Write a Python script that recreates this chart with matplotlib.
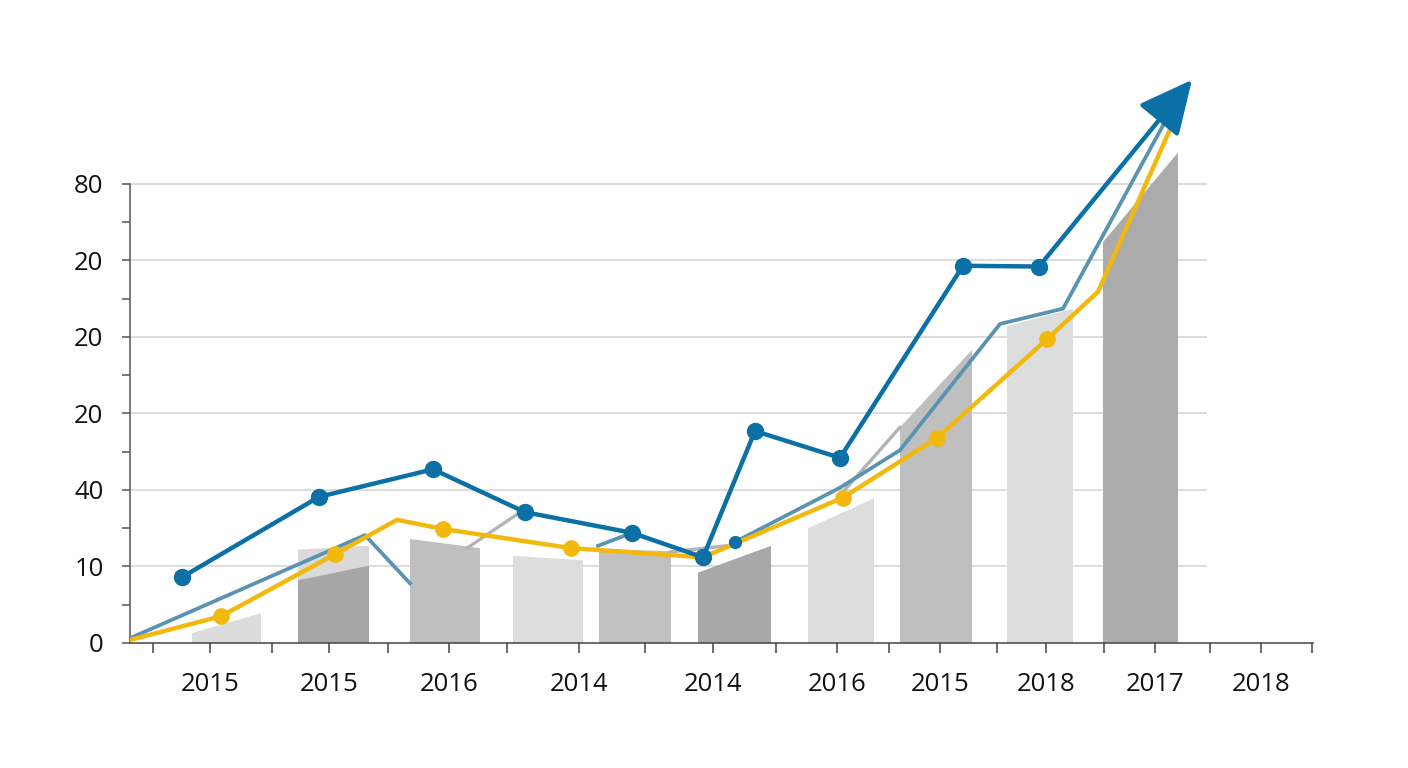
import numpy as np
import matplotlib
matplotlib.use('Agg')
import matplotlib.pyplot as plt
from matplotlib.patches import ArrowStyle

plt.rcParams['font.family'] = ['Open Sans', 'DejaVu Sans']

# axis labels (as printed on the chart)
ytick_pos = [0, 1, 2, 3, 4, 5, 6]
ytick_labels = ['0', '10', '40', '20', '20', '20', '80']
xtick_pos = [0.80, 1.99, 3.19, 4.49, 5.83, 7.07, 8.10, 9.16, 10.25, 11.31]
xtick_labels = ['2015', '2015', '2016', '2014', '2014', '2016', '2015', '2018', '2017', '2018']
xminor_pos = [0.23, 1.42, 2.58, 3.77, 5.15, 6.46, 7.59, 8.67, 9.74, 10.80, 11.82]

# columns: left, right, height at left, height at right (tops are slanted)
bar_left = [0.62, 1.68, 1.68, 2.80, 3.83, 4.69, 5.68, 6.78, 7.70, 8.77, 9.73]
bar_right = [1.31, 2.39, 2.39, 3.50, 4.53, 5.41, 6.41, 7.44, 8.42, 9.43, 10.48]
bar_top_l = [0.13, 1.22, 0.82, 1.36, 1.14, 1.23, 0.92, 1.50, 2.82, 4.14, 5.24]
bar_top_r = [0.39, 1.27, 1.01, 1.24, 1.08, 1.20, 1.27, 1.89, 3.83, 4.37, 6.41]
bar_col = ['#dcdcdc', '#d9d9d9', '#a6a6a6', '#bfbfbf', '#dcdddd', '#c0c0c0',
           '#a8a8a8', '#dcdddd', '#bfbfbf', '#dcdddd', '#ababab']

# main blue series (ends in an arrow)
blue_x = [0.52, 1.89, 3.03, 3.95, 5.02, 5.73, 6.25, 7.10, 8.33, 9.09]
blue_y = [0.86, 1.91, 2.27, 1.71, 1.44, 1.12, 2.77, 2.42, 4.93, 4.92]
arrow_tip = (10.62, 7.36)

# steel blue series (broken where it is hidden)
steel_x = [0.03, 2.35, 2.80, np.nan, 4.68, 5.02, np.nan, 6.05, 7.10, 7.70, 8.70, 9.33, 10.37]
steel_y = [0.08, 1.41, 0.78, np.nan, 1.27, 1.44, np.nan, 1.32, 2.03, 2.52, 4.17, 4.37, 6.86]

# yellow series
yel_x = [0.00, 0.91, 2.05, 2.67, 3.13, 4.41, 5.73, 7.13, 8.07, 9.17, 9.68, 10.42]
yel_y = [0.04, 0.35, 1.16, 1.61, 1.49, 1.24, 1.12, 1.90, 2.68, 3.97, 4.59, 6.77]
yel_marks = [1, 2, 4, 5, 6, 7, 8, 9]

# grey series
grey_x = [3.37, 3.88, np.nan, 5.40, 6.03, np.nan, 7.10, 7.70]
grey_y = [1.24, 1.69, np.nan, 1.19, 1.28, np.nan, 1.93, 2.82]

blue = '#0a70a6'
steel = '#5a93b1'
yellow = '#f2b90c'

fig = plt.figure(figsize=(14.08, 7.68), dpi=100)
ax = fig.add_axes([130/1408, 125/768, 1183/1408, 593/768])
ax.set_xlim(0, 11.83)
ax.set_ylim(0, 7.75)

ax.hlines(ytick_pos[1:], 0, 10.77, color='#dadada', lw=1.3, zorder=0)

for l, r, tl, tr, c in zip(bar_left, bar_right, bar_top_l, bar_top_r, bar_col):
    ax.fill([l, l, r, r], [0, tl, tr, 0], color=c, lw=0, zorder=1)

ax.plot(grey_x, grey_y, color='#b3b3b3', lw=2.4, zorder=2, solid_capstyle='round')
ax.plot(steel_x, steel_y, color=steel, lw=2.7, zorder=3)
ax.plot(yel_x, yel_y, color=yellow, lw=3.2, zorder=4)
ax.plot([yel_x[i] for i in yel_marks], [yel_y[i] for i in yel_marks], 'o',
        color=yellow, ms=11, zorder=4)
ax.plot(blue_x, blue_y, color=blue, lw=3.2, zorder=5)
ax.plot(blue_x, blue_y, 'o', color=blue, ms=11.5, zorder=5)
ax.plot(steel_x[7], steel_y[7], 'o', color=blue, ms=8.5, zorder=5)

ax.annotate('', xy=arrow_tip, xytext=(blue_x[-1], blue_y[-1]),
            arrowprops=dict(arrowstyle=ArrowStyle('-|>', head_length=1.65, head_width=0.8),
                            mutation_scale=20, color=blue, lw=3.2,
                            shrinkA=0, shrinkB=0),
            annotation_clip=False, zorder=6)

for s in ['top', 'right']:
    ax.spines[s].set_visible(False)
ax.spines['left'].set_bounds(0, 6)
ax.spines['left'].set_color('#555555')
ax.spines['bottom'].set_color('#444444')
ax.spines['left'].set_linewidth(1.1)
ax.spines['bottom'].set_linewidth(1.1)

ax.set_yticks(ytick_pos)
ax.set_yticklabels(ytick_labels)
ax.set_yticks([0.5, 1.5, 2.5, 3.5, 4.5, 5.5], minor=True)
ax.set_xticks(xtick_pos)
ax.set_xticklabels(xtick_labels)
ax.set_xticks(xminor_pos, minor=True)

ax.tick_params(axis='y', which='both', length=6, width=1.1, color='#555555',
               labelsize=18.5, pad=13, labelcolor='#111111')
ax.tick_params(axis='x', which='both', length=7, width=1.1, color='#444444',
               labelsize=18.5, pad=14, labelcolor='#111111')

fig.savefig('out.png', dpi=100, facecolor='white')
